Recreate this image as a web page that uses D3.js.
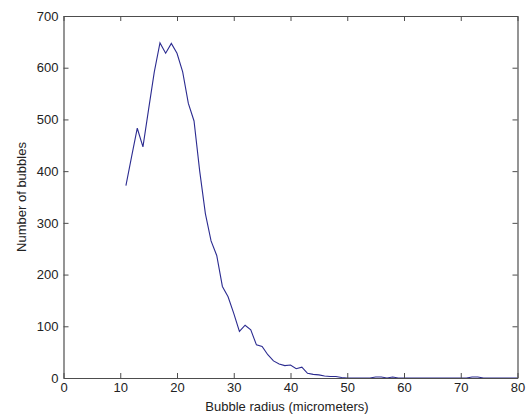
<!DOCTYPE html>
<html lang="en">
    <head>
        <meta charset="utf-8">
        <title>Bubble radius</title>
        <script src="https://d3js.org/d3.v7.min.js"></script>
        <style type="text/css">
            body { margin: 0; background: #fff; }

            .axis path,
            .axis line {
                stroke: #4d4d4d;
            }

            .axis text {
                font-family: "Liberation Sans", Arial, sans-serif;
                font-size: 13px;
                fill: #222;
            }

            .label {
                font-family: "Liberation Sans", Arial, sans-serif;
                font-size: 13px;
                fill: #222;
            }

            .line1 {
                fill: none;
                stroke: #2b2b90;
                stroke-width: 1.1px;
            }
        </style>
    </head>
    <body>
        <script type="text/javascript">

            const w = 528;
            const h = 415;
            const mLeft = 63.5, mRight = 517.5, mTop = 16, mBottom = 378;

            // bubble radius (micrometers) and counts
            const radius = d3.range(11, 81);
            const counts = [
                372, 428, 483, 447, 520, 592, 648, 628, 647, 628,   // 11-20
                592, 531, 497, 400, 318, 265, 237, 177, 157, 125,   // 21-30
                90, 102, 93, 64, 61, 45, 33, 27, 24, 25,            // 31-40
                18, 21, 9, 7, 6, 4, 3, 3, 1, 0,                     // 41-50
                0, 0, 0, 0, 2, 2, 0, 2, 0, 0,                       // 51-60
                0, 0, 0, 0, 0, 0, 0, 0, 0, 0,                       // 61-70
                0, 2, 2, 0, 0, 0, 0, 0, 0, 0                        // 71-80
            ];
            const xTicks = [0, 10, 20, 30, 40, 50, 60, 70, 80];
            const yTicks = [0, 100, 200, 300, 400, 500, 600, 700];

            const data = radius.map((r, i) => ({r: r, n: counts[i]}));

            const xScale = d3.scaleLinear().domain([0, 80]).range([mLeft, mRight]);
            const yScale = d3.scaleLinear().domain([0, 700]).range([mBottom, mTop]);

            const svg = d3.select("body")
                    .append("svg")
                    .attr("width", w)
                    .attr("height", h);

            //line first, box drawn over it
            const line1 = d3.line()
                            .x(d => xScale(d.r))
                            .y(d => yScale(d.n));

            svg.append("path")
                .data([data])
                .attr("d", line1)
                .attr("class", "line1");

            //axes with inward ticks (matlab style)
            svg.append("g")
                .attr("class", "axis")
                .attr("transform", "translate(0," + mBottom + ")")
                .call(d3.axisBottom(xScale).tickValues(xTicks).tickSize(-5).tickPadding(5).tickSizeOuter(0));

            svg.append("g")
                .attr("class", "axis")
                .attr("transform", "translate(0," + mTop + ")")
                .call(d3.axisTop(xScale).tickValues(xTicks).tickSize(-5).tickSizeOuter(0).tickFormat(""));

            svg.append("g")
                .attr("class", "axis")
                .attr("transform", "translate(" + mLeft + ",0)")
                .call(d3.axisLeft(yScale).tickValues(yTicks).tickSize(-5).tickPadding(5).tickSizeOuter(0));

            svg.append("g")
                .attr("class", "axis")
                .attr("transform", "translate(" + mRight + ",0)")
                .call(d3.axisRight(yScale).tickValues(yTicks).tickSize(-5).tickSizeOuter(0).tickFormat(""));

            svg.selectAll(".axis .domain").attr("stroke-width", 1.2);

            //axis labels
            svg.append("text")
                .attr("class", "label")
                .attr("x", 287)
                .attr("y", 411)
                .attr("text-anchor", "middle")
                .text("Bubble radius (micrometers)");

            svg.append("text")
                .attr("class", "label")
                .attr("transform", "translate(26,197) rotate(-90)")
                .attr("text-anchor", "middle")
                .text("Number of bubbles");

        </script>
    </body>
</html>
